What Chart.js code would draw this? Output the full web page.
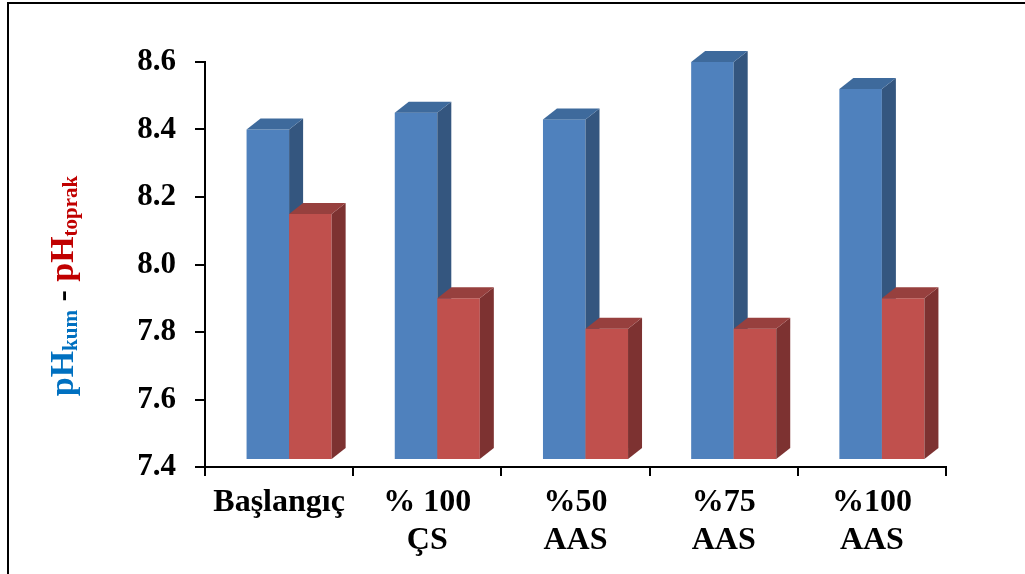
<!DOCTYPE html>
<html><head><meta charset="utf-8">
<script src="https://cdn.jsdelivr.net/npm/chart.js@4.4.1/dist/chart.umd.min.js"></script>
<style>html,body{margin:0;padding:0;background:#fff;overflow:hidden}#wrap{width:1025px;height:574px;position:relative}</style>
</head><body><div id="wrap"><canvas id="c" width="1025" height="574"></canvas></div>
<script>
const categories = ["Başlangıç", ["% 100", "ÇS"], ["%50", "AAS"], ["%75", "AAS"], ["%100", "AAS"]];
const phKum = [8.40, 8.45, 8.43, 8.60, 8.52];
const phToprak = [8.15, 7.90, 7.81, 7.81, 7.90];
const yTicks = [7.4, 7.6, 7.8, 8.0, 8.2, 8.4, 8.6];

const FONT = "'Liberation Serif', 'Times New Roman', serif";
const faces = [
  { front: '#4F81BD', top: '#3E6A9C', side: '#34567F' },
  { front: '#C0504D', top: '#97403E', side: '#7D3231' }
];
const D = { dx: 14, dy: 11, shiftX: 10, lift: 8 };

const bgBorder = {
  id: 'bgBorder',
  beforeDraw(chart) {
    const ctx = chart.ctx;
    ctx.save();
    ctx.fillStyle = '#fff';
    ctx.fillRect(0, 0, chart.width, chart.height);
    ctx.strokeStyle = '#000';
    ctx.lineWidth = 2;
    ctx.strokeRect(8, 3, chart.width + 20, chart.height + 20);
    ctx.restore();
  }
};

const bars3d = {
  id: 'bars3d',
  afterDatasetsDraw(chart) {
    const ctx = chart.ctx;
    const ys = chart.scales.y;
    const basePx = ys.getPixelForValue(ys.min);
    ctx.save();
    const n = chart.data.labels.length;
    for (let i = 0; i < n; i++) {
      chart.data.datasets.forEach((ds, d) => {
        const el = chart.getDatasetMeta(d).data[i];
        const c = faces[d];
        const w = el.width;
        const x0 = el.x - w / 2 + D.shiftX, x1 = x0 + w;
        const yt = el.y, yb = basePx - D.lift;
        ctx.fillStyle = c.front;
        ctx.fillRect(x0, yt, w, yb - yt);
        ctx.fillStyle = c.side;
        ctx.beginPath();
        ctx.moveTo(x1, yt); ctx.lineTo(x1 + D.dx, yt - D.dy);
        ctx.lineTo(x1 + D.dx, yb - D.dy); ctx.lineTo(x1, yb); ctx.closePath(); ctx.fill();
        ctx.fillStyle = c.top;
        ctx.beginPath();
        ctx.moveTo(x0, yt); ctx.lineTo(x0 + D.dx, yt - D.dy);
        ctx.lineTo(x1 + D.dx, yt - D.dy); ctx.lineTo(x1, yt); ctx.closePath(); ctx.fill();
      });
    }
    ctx.restore();
  }
};

const yTitle = {
  id: 'yTitle',
  afterDraw(chart) {
    const ctx = chart.ctx;
    const parts = [
      { t: 'pH', c: '#0070C0', s: 34, sub: false },
      { t: 'kum', c: '#0070C0', s: 21, sub: true },
      { t: ' - ', c: '#000000', s: 34, sub: false },
      { t: 'pH', c: '#C00000', s: 34, sub: false },
      { t: 'toprak', c: '#C00000', s: 21, sub: true }
    ];
    ctx.save();
    let total = 0;
    parts.forEach(p => { ctx.font = 'bold ' + p.s + 'px ' + FONT; p.w = ctx.measureText(p.t).width; total += p.w; });
    ctx.translate(73, 286);
    ctx.rotate(-Math.PI / 2);
    ctx.textBaseline = 'alphabetic';
    ctx.textAlign = 'left';
    let x = -total / 2;
    parts.forEach(p => {
      ctx.font = 'bold ' + p.s + 'px ' + FONT;
      ctx.fillStyle = p.c;
      ctx.fillText(p.t, x, p.sub ? 4 : 0);
      x += p.w;
    });
    ctx.restore();
  }
};

new Chart(document.getElementById('c'), {
  type: 'bar',
  data: {
    labels: categories,
    datasets: [
      { label: 'pH kum', data: phKum, backgroundColor: 'rgba(0,0,0,0)', borderWidth: 0 },
      { label: 'pH toprak', data: phToprak, backgroundColor: 'rgba(0,0,0,0)', borderWidth: 0 }
    ]
  },
  options: {
    responsive: false,
    animation: false,
    events: [],
    layout: { padding: { top: 62, right: 79, left: 0, bottom: 0 } },
    datasets: { bar: { barPercentage: 1, categoryPercentage: 0.574 } },
    plugins: { legend: { display: false }, tooltip: { enabled: false } },
    scales: {
      x: {
        grid: { display: true, drawOnChartArea: false, offset: true, color: '#000', lineWidth: 2, tickLength: 9 },
        border: { display: true, color: '#000', width: 2 },
        ticks: { color: '#000', font: { family: FONT, size: 32, weight: 'bold', lineHeight: 1.18 }, padding: 8, maxRotation: 0, autoSkip: false },
        afterFit(s) { s.height = 107; }
      },
      y: {
        min: 7.4, max: 8.6,
        afterBuildTicks(s) { s.ticks = yTicks.map(v => ({ value: v })); },
        grid: { display: true, drawOnChartArea: false, color: '#000', lineWidth: 2, tickLength: 10 },
        border: { display: true, color: '#000', width: 2 },
        ticks: { color: '#000', font: { family: FONT, size: 31, weight: 'bold' }, padding: 19, callback: v => v.toFixed(1) },
        afterFit(s) { s.width = 205; }
      }
    }
  },
  plugins: [bgBorder, bars3d, yTitle]
});
</script></body></html>
